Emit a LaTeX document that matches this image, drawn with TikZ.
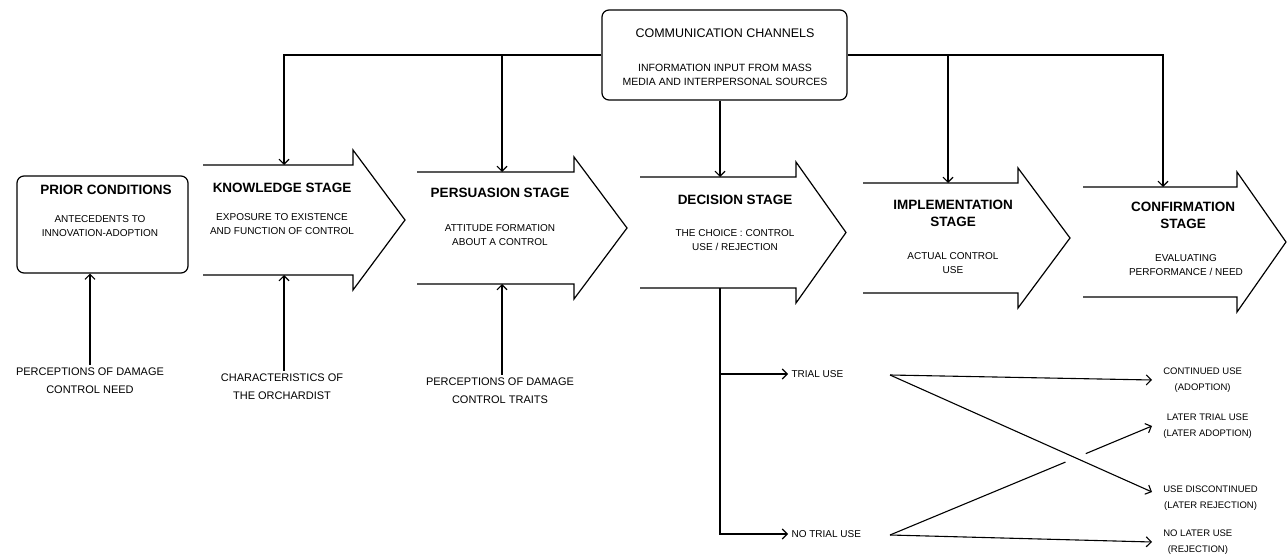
\documentclass[tikz,border=0pt]{standalone}
\usepackage{fontspec}
\setmainfont{Liberation Sans}
\usetikzlibrary{arrows.meta, calc, positioning}
\tikzset{
	stage/.style={line width=1.2pt, line join=miter},
	box/.style={draw, line width=1.2pt, rounded corners=7pt}
}
\newcommand{\stagearrow}[7]{%
	\draw[stage] (#2,#5) -- (#3,#5) -- (#3,#5-15) -- (#4,{(#5+#6)/2}) -- (#3,#6+15) -- (#3,#6) -- (#2,#6);
	\coordinate (#1-in) at (#7,#5);
	\coordinate (#1-out) at (#7,#6);}

\begin{document}
\begin{tikzpicture}[
	x=1pt, y=-1pt,
	flow/.style={line width=1.1pt, -{Straight Barb[length=5pt, width=10pt]}},
	ttl/.style={font=\fontsize{13.5}{17}\selectfont\bfseries, align=center},
	subtxt/.style={font=\fontsize{10}{14}\selectfont, align=center},
	src/.style={font=\fontsize{11}{18}\selectfont, align=center},
	result/.style={font=\fontsize{9.5}{16}\selectfont, align=center, anchor=west, outer sep=8pt}]
	\useasboundingbox (0,0) rectangle (1288,556);
	\node[box, minimum width=245pt, minimum height=90pt] (comm) at (724.5,55) {};
	\node[font=\fontsize{12.5}{15}\selectfont] (commttl) at (725,33) {COMMUNICATION CHANNELS};
	\node[subtxt, font=\fontsize{10.5}{14}\selectfont] (commsub) at (725,75) {INFORMATION INPUT FROM MASS\\MEDIA AND INTERPERSONAL SOURCES};
	\node[box, minimum width=171pt, minimum height=97pt] (prior) at (102.5,224.5) {};
	\node[ttl] (priorttl) at (106,190) {PRIOR CONDITIONS};
	\node[subtxt] (priorsub) at (100,226) {ANTECEDENTS TO\\INNOVATION-ADOPTION};
	\stagearrow{know}{203}{353}{405}{165}{275}{284}
	\stagearrow{pers}{417}{574}{627}{172}{284}{502}
	\stagearrow{dec}{640}{796}{846}{177}{288}{720}
	\stagearrow{impl}{863}{1018}{1070}{183}{293}{948}
	\stagearrow{conf}{1083}{1237}{1286}{187}{297}{1163}
	\node[ttl] (knowttl) at (282,188) {KNOWLEDGE STAGE};
	\node[subtxt] (knowsub) at (282,224) {EXPOSURE TO EXISTENCE\\AND FUNCTION OF CONTROL};
	\node[ttl] (persttl) at (500,193) {PERSUASION STAGE};
	\node[subtxt] (perssub) at (500,235) {ATTITUDE FORMATION\\ABOUT A CONTROL};
	\node[ttl] (decttl) at (735,200) {DECISION STAGE};
	\node[subtxt] (decsub) at (735,240) {THE CHOICE : CONTROL\\USE / REJECTION};
	\node[ttl] (implttl) at (953,213) {IMPLEMENTATION\\STAGE};
	\node[subtxt] (implsub) at (953,263) {ACTUAL CONTROL\\USE};
	\node[ttl] (confttl) at (1183,215) {CONFIRMATION\\STAGE};
	\node[subtxt] (confsub) at (1186,265) {EVALUATING\\PERFORMANCE / NEED};
	\draw[flow] (comm.west) -| (know-in);
	\draw[flow] (comm.west -| pers-in) -- (pers-in);
	\draw[flow] (comm.south -| dec-in) -- (dec-in);
	\draw[flow] (comm.east) -| (conf-in);
	\draw[flow] (comm.east -| impl-in) -- (impl-in);
	\node[src] (need) at (90,381) {PERCEPTIONS OF DAMAGE\\CONTROL NEED};
	\node[src] (orch) at (282,387) {CHARACTERISTICS OF\\THE ORCHARDIST};
	\node[src] (traits) at (500,391) {PERCEPTIONS OF DAMAGE\\CONTROL TRAITS};
	\draw[flow] (need.north) -- (need.north |- prior.south);
	\draw[flow] (orch.north -| know-out) -- (know-out);
	\draw[flow] (traits.north -| pers-out) -- (pers-out);
	\node[subtxt, anchor=west] (trial) at (788,374) {TRIAL USE};
	\node[subtxt, anchor=west] (notrial) at (788,534) {NO TRIAL USE};
	\draw[flow] (dec-out) |- (notrial.west);
	\draw[flow] (dec-out |- trial.west) -- (trial.west);
	\node[result] (cont) at (1152,380) {CONTINUED USE\\(ADOPTION)};
	\node[result] (later) at (1152,426) {LATER TRIAL USE\\(LATER ADOPTION)};
	\node[result] (disc) at (1152,498) {USE DISCONTINUED\\(LATER REJECTION)};
	\node[result] (nolater) at (1152,542) {NO LATER USE\\(REJECTION)};
	\coordinate (t0) at (890,375);
	\coordinate (n0) at (890,535);
	\coordinate (d1) at ([yshift=6pt]disc.west);
	\coordinate (cross) at (intersection of t0--d1 and n0--later.west);
	\draw[flow] (t0) -- (cont.west);
	\draw[flow] (t0) -- (d1);
	\draw[line width=1.1pt] (n0) -- ($(cross)!11pt!(n0)$);
	\draw[flow] ($(cross)!11pt!(later.west)$) -- (later.west);
	\draw[flow] (n0) -- (nolater.west);
\end{tikzpicture}
\end{document}
